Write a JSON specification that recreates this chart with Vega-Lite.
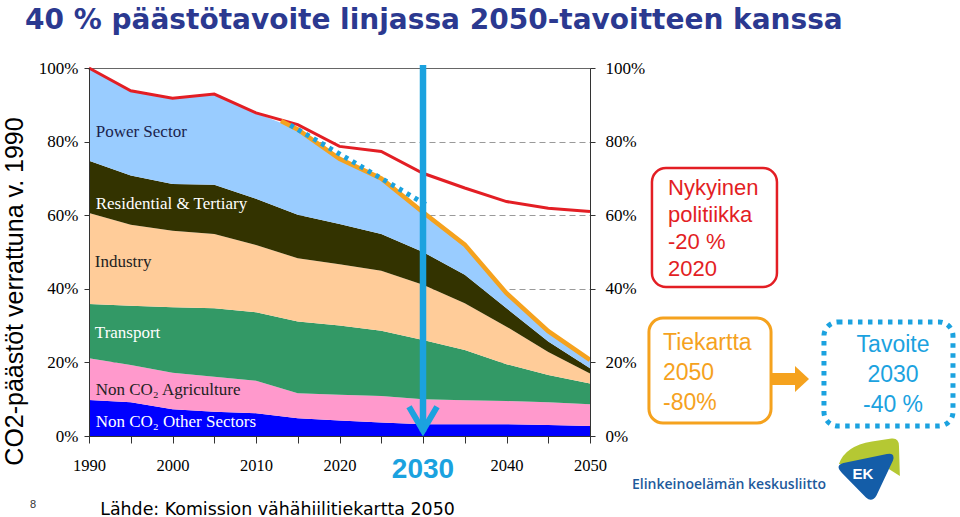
{
  "$schema": "https://vega.github.io/schema/vega-lite/v6.json",
  "width": 501,
  "height": 368,
  "autosize": {"type": "none"},
  "padding": {"left": 89, "top": 68, "right": 370, "bottom": 81},
  "background": "white",
  "title": {
    "text": "40 % päästötavoite linjassa 2050-tavoitteen kanssa",
    "anchor": "start",
    "frame": "group",
    "dx": -64,
    "offset": 24,
    "font": "DejaVu Sans",
    "fontSize": 28,
    "fontWeight": "bold",
    "color": "#2B3990"
  },
  "config": {
    "font": "Liberation Sans",
    "view": {"stroke": "#666666", "strokeWidth": 1}
  },
  "datasets": {
    "sectors": [
      {"year": 1990, "sector": "Non CO2 Other Sectors", "share": 9.8},
      {"year": 1990, "sector": "Non CO2 Agriculture", "share": 11.3},
      {"year": 1990, "sector": "Transport", "share": 14.8},
      {"year": 1990, "sector": "Industry", "share": 24.7},
      {"year": 1990, "sector": "Residential & Tertiary", "share": 14.2},
      {"year": 1990, "sector": "Power Sector", "share": 25.2},
      {"year": 1995, "sector": "Non CO2 Other Sectors", "share": 9.2},
      {"year": 1995, "sector": "Non CO2 Agriculture", "share": 10.1},
      {"year": 1995, "sector": "Transport", "share": 16.1},
      {"year": 1995, "sector": "Industry", "share": 22.0},
      {"year": 1995, "sector": "Residential & Tertiary", "share": 13.4},
      {"year": 1995, "sector": "Power Sector", "share": 23.0},
      {"year": 2000, "sector": "Non CO2 Other Sectors", "share": 7.3},
      {"year": 2000, "sector": "Non CO2 Agriculture", "share": 9.9},
      {"year": 2000, "sector": "Transport", "share": 17.8},
      {"year": 2000, "sector": "Industry", "share": 20.8},
      {"year": 2000, "sector": "Residential & Tertiary", "share": 12.7},
      {"year": 2000, "sector": "Power Sector", "share": 23.3},
      {"year": 2005, "sector": "Non CO2 Other Sectors", "share": 6.6},
      {"year": 2005, "sector": "Non CO2 Agriculture", "share": 9.5},
      {"year": 2005, "sector": "Transport", "share": 18.6},
      {"year": 2005, "sector": "Industry", "share": 20.2},
      {"year": 2005, "sector": "Residential & Tertiary", "share": 13.4},
      {"year": 2005, "sector": "Power Sector", "share": 24.6},
      {"year": 2010, "sector": "Non CO2 Other Sectors", "share": 6.2},
      {"year": 2010, "sector": "Non CO2 Agriculture", "share": 8.8},
      {"year": 2010, "sector": "Transport", "share": 18.6},
      {"year": 2010, "sector": "Industry", "share": 18.3},
      {"year": 2010, "sector": "Residential & Tertiary", "share": 12.6},
      {"year": 2010, "sector": "Power Sector", "share": 23.3},
      {"year": 2015, "sector": "Non CO2 Other Sectors", "share": 4.8},
      {"year": 2015, "sector": "Non CO2 Agriculture", "share": 6.8},
      {"year": 2015, "sector": "Transport", "share": 19.5},
      {"year": 2015, "sector": "Industry", "share": 17.2},
      {"year": 2015, "sector": "Residential & Tertiary", "share": 11.8},
      {"year": 2015, "sector": "Power Sector", "share": 23.2},
      {"year": 2020, "sector": "Non CO2 Other Sectors", "share": 4.2},
      {"year": 2020, "sector": "Non CO2 Agriculture", "share": 7.0},
      {"year": 2020, "sector": "Transport", "share": 18.8},
      {"year": 2020, "sector": "Industry", "share": 16.7},
      {"year": 2020, "sector": "Residential & Tertiary", "share": 10.9},
      {"year": 2020, "sector": "Power Sector", "share": 17.7},
      {"year": 2025, "sector": "Non CO2 Other Sectors", "share": 3.7},
      {"year": 2025, "sector": "Non CO2 Agriculture", "share": 7.2},
      {"year": 2025, "sector": "Transport", "share": 17.7},
      {"year": 2025, "sector": "Industry", "share": 16.3},
      {"year": 2025, "sector": "Residential & Tertiary", "share": 10.0},
      {"year": 2025, "sector": "Power Sector", "share": 15.1},
      {"year": 2030, "sector": "Non CO2 Other Sectors", "share": 3.2},
      {"year": 2030, "sector": "Non CO2 Agriculture", "share": 6.8},
      {"year": 2030, "sector": "Transport", "share": 16.1},
      {"year": 2030, "sector": "Industry", "share": 15.0},
      {"year": 2030, "sector": "Residential & Tertiary", "share": 8.9},
      {"year": 2030, "sector": "Power Sector", "share": 10.8},
      {"year": 2035, "sector": "Non CO2 Other Sectors", "share": 3.2},
      {"year": 2035, "sector": "Non CO2 Agriculture", "share": 6.5},
      {"year": 2035, "sector": "Transport", "share": 13.7},
      {"year": 2035, "sector": "Industry", "share": 12.7},
      {"year": 2035, "sector": "Residential & Tertiary", "share": 7.7},
      {"year": 2035, "sector": "Power Sector", "share": 8.2},
      {"year": 2040, "sector": "Non CO2 Other Sectors", "share": 3.2},
      {"year": 2040, "sector": "Non CO2 Agriculture", "share": 6.3},
      {"year": 2040, "sector": "Transport", "share": 10.0},
      {"year": 2040, "sector": "Industry", "share": 10.2},
      {"year": 2040, "sector": "Residential & Tertiary", "share": 5.0},
      {"year": 2040, "sector": "Power Sector", "share": 4.1},
      {"year": 2045, "sector": "Non CO2 Other Sectors", "share": 3.0},
      {"year": 2045, "sector": "Non CO2 Agriculture", "share": 6.2},
      {"year": 2045, "sector": "Transport", "share": 7.4},
      {"year": 2045, "sector": "Industry", "share": 6.2},
      {"year": 2045, "sector": "Residential & Tertiary", "share": 2.9},
      {"year": 2045, "sector": "Power Sector", "share": 2.8},
      {"year": 2050, "sector": "Non CO2 Other Sectors", "share": 2.7},
      {"year": 2050, "sector": "Non CO2 Agriculture", "share": 5.9},
      {"year": 2050, "sector": "Transport", "share": 5.7},
      {"year": 2050, "sector": "Industry", "share": 2.7},
      {"year": 2050, "sector": "Residential & Tertiary", "share": 1.4},
      {"year": 2050, "sector": "Power Sector", "share": 2.1}
    ],
    "policy": [
      {"year": 1990, "share": 100},
      {"year": 1995, "share": 93.8},
      {"year": 2000, "share": 91.8},
      {"year": 2005, "share": 92.9},
      {"year": 2010, "share": 87.8},
      {"year": 2015, "share": 84.6},
      {"year": 2020, "share": 78.7},
      {"year": 2025, "share": 77.3},
      {"year": 2030, "share": 71.4},
      {"year": 2035, "share": 67.4},
      {"year": 2040, "share": 63.7},
      {"year": 2045, "share": 61.9},
      {"year": 2050, "share": 61.0}
    ],
    "roadmap": [
      {"year": 2013, "share": 85.6},
      {"year": 2015, "share": 83.3},
      {"year": 2020, "share": 75.3},
      {"year": 2025, "share": 70.0},
      {"year": 2030, "share": 60.8},
      {"year": 2035, "share": 52.0},
      {"year": 2040, "share": 38.8},
      {"year": 2045, "share": 28.5},
      {"year": 2050, "share": 20.7}
    ],
    "target": [
      {"year": 2014.1, "share": 84.5},
      {"year": 2030.8, "share": 62.3}
    ]
  },
  "resolve": {"axis": {"x": "independent", "y": "independent"}},
  "layer": [
    {
      "data": {"name": "sectors"},
      "transform": [
        {"calculate": "indexof(['Non CO2 Other Sectors','Non CO2 Agriculture','Transport','Industry','Residential & Tertiary','Power Sector'], datum.sector)", "as": "stackOrder"}
      ],
      "mark": {"type": "area", "interpolate": "linear"},
      "encoding": {
        "x": {
          "field": "year",
          "type": "quantitative",
          "scale": {"domain": [1990, 2050], "nice": false, "zero": false},
          "axis": {
            "orient": "bottom",
            "values": [1990, 1995, 2000, 2005, 2010, 2015, 2020, 2025, 2030, 2035, 2040, 2045, 2050],
            "format": "d",
            "labelExpr": "datum.value % 10 === 0 && datum.value !== 2030 ? datum.label : ''",
            "labelFont": "Liberation Serif",
            "labelFontSize": 16.5,
            "labelColor": "#000000",
            "labelBaseline": "middle",
            "labelPadding": 22,
            "labelFlush": false,
            "labelOverlap": false,
            "tickSize": 7,
            "tickColor": "#333333",
            "domainColor": "#333333",
            "grid": false,
            "zindex": 1,
            "title": "Lähde: Komission vähähiilitiekartta 2050",
            "titleFont": "DejaVu Sans",
            "titleFontSize": 17.4,
            "titleFontWeight": "normal",
            "titleColor": "#000000",
            "titleX": 188,
            "titleY": 78,
            "titleAlign": "center",
            "titleBaseline": "alphabetic"
          }
        },
        "y": {
          "field": "share",
          "type": "quantitative",
          "stack": "zero",
          "scale": {"domain": [0, 100], "nice": false, "zero": true},
          "axis": {
            "orient": "left",
            "values": [20, 40, 60, 80],
            "grid": true,
            "gridDash": [6, 4],
            "gridColor": "#9a9a9a",
            "gridWidth": 1.2,
            "domain": false,
            "ticks": false,
            "labels": false,
            "title": null,
            "zindex": 0
          }
        },
        "color": {
          "field": "sector",
          "type": "nominal",
          "scale": {
            "domain": ["Power Sector", "Residential & Tertiary", "Industry", "Transport", "Non CO2 Agriculture", "Non CO2 Other Sectors"],
            "range": ["#99CCFF", "#333300", "#FFCC99", "#339966", "#FF99CC", "#0000FF"]
          },
          "legend": null
        },
        "order": {"field": "stackOrder", "type": "quantitative"}
      }
    },
    {
      "data": {"name": "policy"},
      "mark": {"type": "line", "color": "#E31E24", "strokeWidth": 3},
      "encoding": {
        "x": {"field": "year", "type": "quantitative", "axis": null},
        "y": {
          "field": "share",
          "type": "quantitative",
          "axis": {
            "orient": "left",
            "values": [0, 20, 40, 60, 80, 100],
            "labelExpr": "datum.value + '%'",
            "labelFont": "Liberation Serif",
            "labelFontSize": 17,
            "labelColor": "#000000",
            "labelPadding": 6,
            "labelFlush": false,
            "labelOverlap": false,
            "tickSize": 5,
            "tickColor": "#333333",
            "domainColor": "#333333",
            "grid": false,
            "zindex": 1,
            "title": "CO2-päästöt verrattuna v. 1990",
            "titleFont": "Liberation Sans",
            "titleFontSize": 25,
            "titleFontWeight": "normal",
            "titleColor": "#000000",
            "titleAngle": -90,
            "titleX": -75,
            "titleY": 223,
            "titleAlign": "center",
            "titleBaseline": "middle"
          }
        }
      }
    },
    {
      "data": {"name": "roadmap"},
      "mark": {"type": "line", "color": "#F5A21E", "strokeWidth": 4.5},
      "encoding": {
        "x": {"field": "year", "type": "quantitative", "axis": null},
        "y": {
          "field": "share",
          "type": "quantitative",
          "axis": {
            "orient": "right",
            "values": [0, 20, 40, 60, 80, 100],
            "labelExpr": "datum.value + '%'",
            "labelFont": "Liberation Serif",
            "labelFontSize": 17,
            "labelColor": "#000000",
            "labelPadding": 10,
            "labelFlush": false,
            "labelOverlap": false,
            "tickSize": 5,
            "tickColor": "#333333",
            "domainColor": "#333333",
            "grid": false,
            "zindex": 1,
            "title": null
          }
        }
      }
    },
    {
      "data": {"name": "target"},
      "mark": {"type": "line", "color": "#1BA2DF", "strokeWidth": 5, "strokeDash": [4, 5], "strokeCap": "butt"},
      "encoding": {
        "x": {"field": "year", "type": "quantitative", "axis": null},
        "y": {"field": "share", "type": "quantitative", "axis": null}
      }
    },
    {
      "data": {"values": [{"label": "2030"}]},
      "layer": [
        {
          "mark": {"type": "rule", "color": "#1BA2DF", "strokeWidth": 6.5},
          "encoding": {
            "x": {"datum": 2030, "type": "quantitative", "axis": null},
            "y": {"datum": 100.8, "type": "quantitative", "axis": null},
            "y2": {"datum": 1.2}
          }
        },
        {
          "mark": {"type": "point", "shape": "M-1,-1.7L0,0L1,-1.7", "size": 784, "filled": false, "stroke": "#1BA2DF", "strokeWidth": 6, "opacity": 1},
          "encoding": {
            "x": {"datum": 2030, "type": "quantitative", "axis": null},
            "y": {"datum": 1.5, "type": "quantitative", "axis": null}
          }
        },
        {
          "mark": {"type": "text", "align": "center", "baseline": "alphabetic", "font": "Liberation Sans", "fontSize": 28, "fontWeight": "bold", "color": "#1BA2DF"},
          "encoding": {
            "x": {"datum": 2030, "type": "quantitative", "axis": null},
            "y": {"datum": -11.4, "type": "quantitative", "axis": null},
            "text": {"field": "label"}
          }
        }
      ]
    },
    {
      "data": {"values": [{"label": "Power Sector"}]},
      "mark": {"type": "text", "align": "left", "baseline": "middle", "font": "Liberation Serif", "fontSize": 17, "color": "#1a1f4d"},
      "encoding": {
        "x": {"datum": 1990.8, "type": "quantitative", "axis": null},
        "y": {"datum": 82.6, "type": "quantitative", "axis": null},
        "text": {"field": "label"}
      }
    },
    {
      "data": {"values": [{"label": "Residential & Tertiary"}]},
      "mark": {"type": "text", "align": "left", "baseline": "middle", "font": "Liberation Serif", "fontSize": 17, "color": "#ffffff"},
      "encoding": {
        "x": {"datum": 1990.8, "type": "quantitative", "axis": null},
        "y": {"datum": 63.0, "type": "quantitative", "axis": null},
        "text": {"field": "label"}
      }
    },
    {
      "data": {"values": [{"label": "Industry"}]},
      "mark": {"type": "text", "align": "left", "baseline": "middle", "font": "Liberation Serif", "fontSize": 17, "color": "#222222"},
      "encoding": {
        "x": {"datum": 1990.7, "type": "quantitative", "axis": null},
        "y": {"datum": 47.3, "type": "quantitative", "axis": null},
        "text": {"field": "label"}
      }
    },
    {
      "data": {"values": [{"label": "Transport"}]},
      "mark": {"type": "text", "align": "left", "baseline": "middle", "font": "Liberation Serif", "fontSize": 17, "color": "#ffffff"},
      "encoding": {
        "x": {"datum": 1990.7, "type": "quantitative", "axis": null},
        "y": {"datum": 28.0, "type": "quantitative", "axis": null},
        "text": {"field": "label"}
      }
    },
    {
      "data": {"values": [{"label": "Non CO₂ Agriculture"}]},
      "mark": {"type": "text", "align": "left", "baseline": "middle", "font": "Liberation Serif", "fontSize": 17, "color": "#222222"},
      "encoding": {
        "x": {"datum": 1990.8, "type": "quantitative", "axis": null},
        "y": {"datum": 12.5, "type": "quantitative", "axis": null},
        "text": {"field": "label"}
      }
    },
    {
      "data": {"values": [{"label": "Non CO₂ Other Sectors"}]},
      "mark": {"type": "text", "align": "left", "baseline": "middle", "font": "Liberation Serif", "fontSize": 17, "color": "#ffffff"},
      "encoding": {
        "x": {"datum": 1990.8, "type": "quantitative", "axis": null},
        "y": {"datum": 3.8, "type": "quantitative", "axis": null},
        "text": {"field": "label"}
      }
    },
    {
      "data": {"values": [{"label": "Nykyinen\npolitiikka\n-20 %\n2020"}]},
      "layer": [
        {
          "mark": {"type": "rect", "cornerRadius": 14, "fill": "#ffffff", "stroke": "#E31E24", "strokeWidth": 2.5},
          "encoding": {
            "x": {"datum": 2057.42, "type": "quantitative", "axis": null},
            "x2": {"datum": 2072.39},
            "y": {"datum": 72.83, "type": "quantitative", "axis": null},
            "y2": {"datum": 40.49}
          }
        },
        {
          "mark": {"type": "text", "align": "left", "baseline": "alphabetic", "lineBreak": "\n", "lineHeight": 27, "font": "Liberation Sans", "fontSize": 22, "color": "#E31E24"},
          "encoding": {
            "x": {"datum": 2059.34, "type": "quantitative", "axis": null},
            "y": {"datum": 65.49, "type": "quantitative", "axis": null},
            "text": {"field": "label"}
          }
        }
      ]
    },
    {
      "data": {"values": [{"label": "Tiekartta\n2050\n-80%"}]},
      "layer": [
        {
          "mark": {"type": "rect", "cornerRadius": 14, "fill": "#ffffff", "stroke": "#F5A21E", "strokeWidth": 3},
          "encoding": {
            "x": {"datum": 2057.06, "type": "quantitative", "axis": null},
            "x2": {"datum": 2071.68},
            "y": {"datum": 32.07, "type": "quantitative", "axis": null},
            "y2": {"datum": 3.53}
          }
        },
        {
          "mark": {"type": "text", "align": "left", "baseline": "alphabetic", "lineBreak": "\n", "lineHeight": 30, "font": "Liberation Sans", "fontSize": 23, "color": "#F5A21E"},
          "encoding": {
            "x": {"datum": 2058.74, "type": "quantitative", "axis": null},
            "y": {"datum": 23.37, "type": "quantitative", "axis": null},
            "text": {"field": "label"}
          }
        },
        {
          "mark": {"type": "rect", "color": "#F5A21E"},
          "encoding": {
            "x": {"datum": 2071.68, "type": "quantitative", "axis": null},
            "x2": {"datum": 2074.8},
            "y": {"datum": 17.12, "type": "quantitative", "axis": null},
            "y2": {"datum": 13.86}
          }
        },
        {
          "mark": {"type": "point", "shape": "M-0.54,-1L0.54,0L-0.54,1Z", "size": 676, "filled": true, "color": "#F5A21E", "opacity": 1},
          "encoding": {
            "x": {"datum": 2075.39, "type": "quantitative", "axis": null},
            "y": {"datum": 15.49, "type": "quantitative", "axis": null}
          }
        }
      ]
    },
    {
      "data": {"values": [{"label": "Tavoite\n2030\n-40 %"}]},
      "layer": [
        {
          "mark": {"type": "rect", "cornerRadius": 14, "fill": "#ffffff", "stroke": "#1BA2DF", "strokeWidth": 5, "strokeDash": [4.5, 5.5], "strokeCap": "butt"},
          "encoding": {
            "x": {"datum": 2078.02, "type": "quantitative", "axis": null},
            "x2": {"datum": 2093.47},
            "y": {"datum": 30.98, "type": "quantitative", "axis": null},
            "y2": {"datum": 2.72}
          }
        },
        {
          "mark": {"type": "text", "align": "center", "baseline": "alphabetic", "lineBreak": "\n", "lineHeight": 30, "font": "Liberation Sans", "fontSize": 23, "color": "#1BA2DF"},
          "encoding": {
            "x": {"datum": 2086.29, "type": "quantitative", "axis": null},
            "y": {"datum": 22.83, "type": "quantitative", "axis": null},
            "text": {"field": "label"}
          }
        }
      ]
    },
    {
      "data": {"values": [{"label": "8"}]},
      "mark": {"type": "text", "align": "center", "baseline": "alphabetic", "font": "Liberation Sans", "fontSize": 11, "color": "#333333"},
      "encoding": {
        "x": {"datum": 1983.3, "type": "quantitative", "axis": null},
        "y": {"datum": -19.5, "type": "quantitative", "axis": null},
        "text": {"field": "label"}
      }
    },
    {
      "data": {"values": [{"label": "EK", "name": "Elinkeinoelämän keskusliitto"}]},
      "layer": [
        {
          "mark": {"type": "point", "shape": "M-0.9,-0.3Q-0.7,-0.9 0.2,-1.05L0.85,-1.15Q1.1,-1.18 1.1,-0.9L1.13,0.1L0.5,-0.3Z", "size": 3600, "filled": true, "color": "#B5C833", "opacity": 1},
          "encoding": {
            "x": {"datum": 2083.05, "type": "quantitative", "axis": null},
            "y": {"datum": -10.05, "type": "quantitative", "axis": null}
          }
        },
        {
          "mark": {"type": "point", "shape": "M-0.75,-0.33L0.7,-0.63Q0.98,-0.7 0.9,-0.42L0.35,0.75Q0.2,1.0 0.0,0.82L-0.8,0.0Q-1.05,-0.25 -0.75,-0.33Z", "size": 3600, "filled": true, "color": "#145DA8", "opacity": 1},
          "encoding": {
            "x": {"datum": 2083.05, "type": "quantitative", "axis": null},
            "y": {"datum": -10.05, "type": "quantitative", "axis": null}
          }
        },
        {
          "mark": {"type": "text", "align": "center", "baseline": "alphabetic", "font": "Liberation Sans", "fontSize": 15, "fontWeight": "bold", "color": "#ffffff"},
          "encoding": {
            "x": {"datum": 2082.69, "type": "quantitative", "axis": null},
            "y": {"datum": -11.68, "type": "quantitative", "axis": null},
            "text": {"field": "label"}
          }
        },
        {
          "mark": {"type": "text", "align": "left", "baseline": "alphabetic", "font": "Open Sans", "fontSize": 14, "fontWeight": 600, "color": "#1E5A9C"},
          "encoding": {
            "x": {"datum": 2055.03, "type": "quantitative", "axis": null},
            "y": {"datum": -14.4, "type": "quantitative", "axis": null},
            "text": {"field": "name"}
          }
        }
      ]
    }
  ]
}
